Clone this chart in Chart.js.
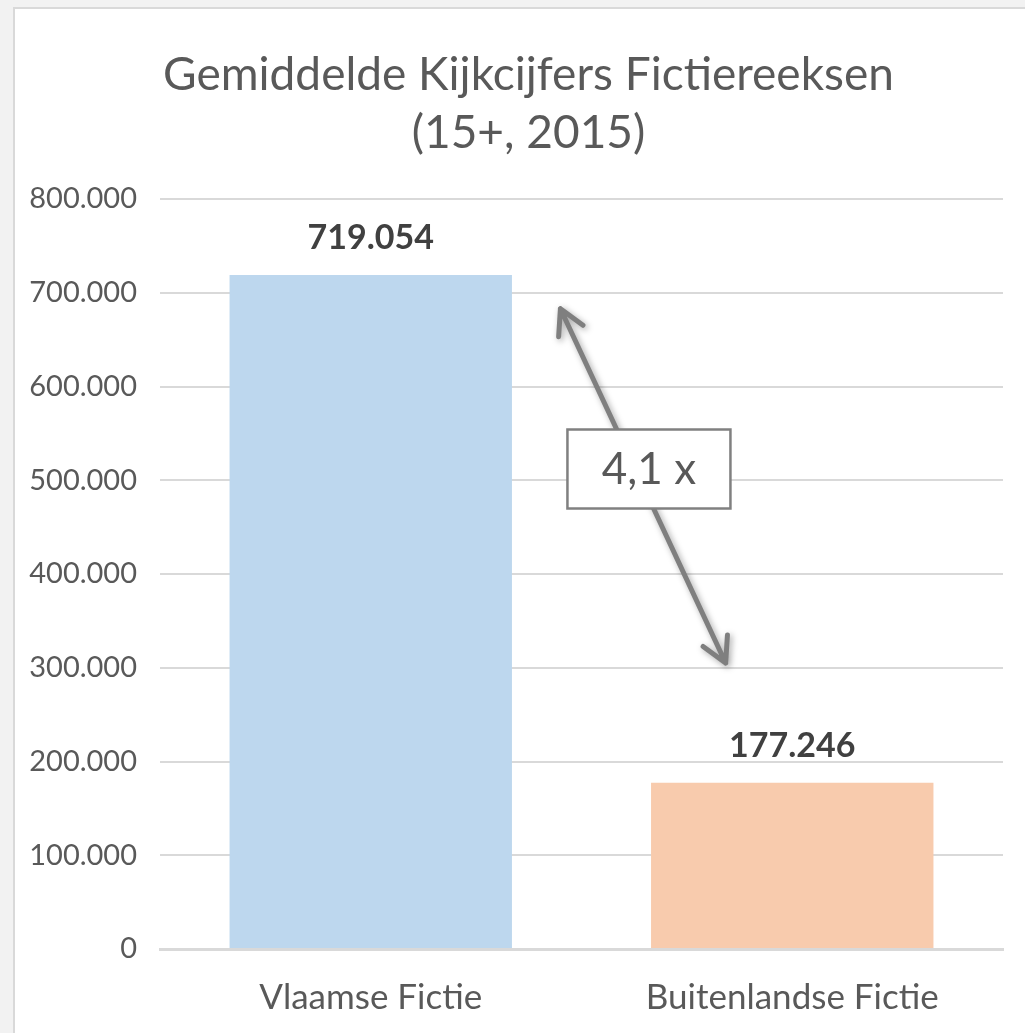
<html lang="nl">
<head>
    <meta charset="UTF-8">
    <title>Gemiddelde Kijkcijfers Fictiereeksen</title>
    <script src="https://cdn.jsdelivr.net/npm/chart.js"></script>
    <style>
        html, body { margin: 0; padding: 0; width: 1025px; height: 1033px; overflow: hidden; background: #f2f2f2; }
        #panel { position: absolute; left: 13px; top: 7px; width: 1040px; height: 1060px; background: #ffffff; border: 2px solid #d9d9d9; }
        #wrap { position: absolute; left: 0; top: 0; width: 1025px; height: 1033px; }
    </style>
</head>
<body>
    <div id="panel"></div>
    <div id="wrap"><canvas id="myChart"></canvas></div>

    <script>
        // data
        const categories = ['Vlaamse Fictie', 'Buitenlandse Fictie'];
        const kijkers = [719054, 177246];
        const barColors = ['#bdd7ee', '#f8cbad'];
        const yTicks = [0, 100000, 200000, 300000, 400000, 500000, 600000, 700000, 800000];
        const titleLines = ['Gemiddelde Kijkcijfers Fictiereeksen', '(15+, 2015)'];
        const ratioLabel = '4,1 x';

        function dots(n) {
            return String(n).replace(/\B(?=(\d{3})+(?!\d))/g, '.');
        }

        // title, centred over the panel (not over the canvas)
        var chartTitle = {
            id: 'chartTitle',
            afterDraw: function(chart) {
                var ctx = chart.ctx;
                var cx = chart.width / 2 + 16;
                ctx.save();
                ctx.font = '46px Lato';
                ctx.fillStyle = '#595959';
                ctx.textAlign = 'center';
                ctx.textBaseline = 'alphabetic';
                ctx.fillText(titleLines[0], cx, 90);
                ctx.fillText(titleLines[1], cx, 148);
                ctx.restore();
            }
        };

        // value labels above the bars
        var valueLabels = {
            id: 'valueLabels',
            afterDatasetsDraw: function(chart) {
                var ctx = chart.ctx;
                var meta = chart.getDatasetMeta(0);
                ctx.save();
                ctx.font = 'bold 34px Lato';
                ctx.fillStyle = '#404040';
                ctx.textAlign = 'center';
                ctx.textBaseline = 'middle';
                meta.data.forEach(function(bar, i) {
                    ctx.fillText(dots(kijkers[i]), bar.x, bar.y - 37);
                });
                ctx.restore();
            }
        };

        // double arrow + "4,1 x" box, placed in data space
        var ratioArrow = {
            id: 'ratioArrow',
            afterDatasetsDraw: function(chart) {
                var ctx = chart.ctx;
                var xs = chart.scales.x, ys = chart.scales.y;
                var x1 = xs.getPixelForValue(0.45), y1 = ys.getPixelForValue(683000);
                var x2 = xs.getPixelForValue(0.842), y2 = ys.getPixelForValue(305000);
                var ang = Math.atan2(y2 - y1, x2 - x1);
                var head = 28, spread = 0.5;

                ctx.save();
                ctx.strokeStyle = '#7f7f7f';
                ctx.lineWidth = 5;
                ctx.lineCap = 'round';
                ctx.lineJoin = 'round';
                ctx.shadowColor = 'rgba(0,0,0,0.35)';
                ctx.shadowBlur = 6;
                ctx.shadowOffsetX = 2;
                ctx.shadowOffsetY = 2;
                ctx.beginPath();
                ctx.moveTo(x1, y1);
                ctx.lineTo(x2, y2);
                ctx.moveTo(x1 + head * Math.cos(ang - spread), y1 + head * Math.sin(ang - spread));
                ctx.lineTo(x1, y1);
                ctx.lineTo(x1 + head * Math.cos(ang + spread), y1 + head * Math.sin(ang + spread));
                ctx.moveTo(x2 - head * Math.cos(ang - spread), y2 - head * Math.sin(ang - spread));
                ctx.lineTo(x2, y2);
                ctx.lineTo(x2 - head * Math.cos(ang + spread), y2 - head * Math.sin(ang + spread));
                ctx.stroke();
                ctx.restore();

                var cx = xs.getPixelForValue(0.66), cy = ys.getPixelForValue(512000);
                var w = 163, h = 79;
                ctx.save();
                ctx.fillStyle = '#ffffff';
                ctx.strokeStyle = '#808080';
                ctx.lineWidth = 2.5;
                ctx.fillRect(cx - w / 2, cy - h / 2, w, h);
                ctx.strokeRect(cx - w / 2, cy - h / 2, w, h);
                ctx.font = '44px Lato';
                ctx.fillStyle = '#595959';
                ctx.textAlign = 'center';
                ctx.textBaseline = 'middle';
                ctx.fillText(ratioLabel, cx, cy + 1);
                ctx.restore();
            }
        };

        var data = {
            labels: categories,
            datasets: [{
                label: 'Kijkers',
                data: kijkers,
                backgroundColor: barColors,
                borderWidth: 0,
                categoryPercentage: 0.67,
                barPercentage: 1.0
            }]
        };

        var config = {
            type: 'bar',
            data: data,
            plugins: [chartTitle, valueLabels, ratioArrow],
            options: {
                responsive: true,
                maintainAspectRatio: false,
                animation: false,
                layout: { padding: { left: 0, right: 22, top: 199, bottom: 0 } },
                plugins: {
                    legend: { display: false },
                    tooltip: { enabled: false },
                    title: { display: false }
                },
                scales: {
                    x: {
                        grid: { display: false, drawTicks: false },
                        border: { color: '#d9d9d9', width: 3 },
                        ticks: {
                            color: '#595959',
                            font: { family: 'Lato', size: 35 },
                            padding: 28
                        },
                        afterFit: function(scale) { scale.height = 84; }
                    },
                    y: {
                        min: 0,
                        max: 800000,
                        afterBuildTicks: function(scale) {
                            scale.ticks = yTicks.map(function(v) { return { value: v }; });
                        },
                        grid: { color: '#d9d9d9', lineWidth: 2, drawTicks: false },
                        border: { display: false },
                        ticks: {
                            color: '#595959',
                            font: { family: 'Lato', size: 29 },
                            padding: 23,
                            callback: function(v) { return dots(v); }
                        },
                        afterFit: function(scale) { scale.width = 160; }
                    }
                }
            }
        };

        var ctx = document.getElementById('myChart').getContext('2d');
        var myChart = new Chart(ctx, config);
    </script>
</body>
</html>
